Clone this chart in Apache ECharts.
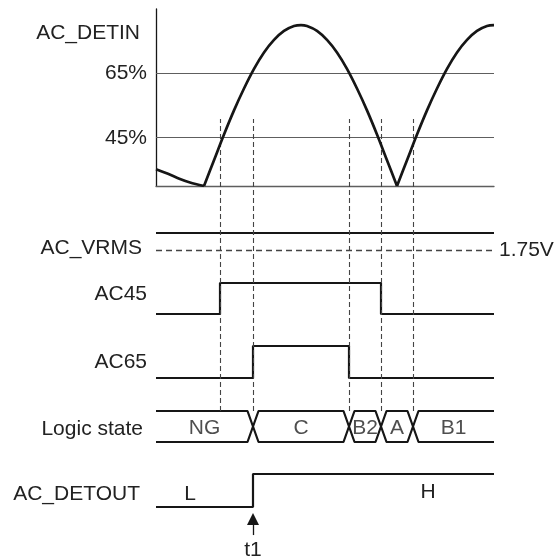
<!DOCTYPE html>
<html><head><meta charset="utf-8">
<script src="https://cdn.jsdelivr.net/npm/echarts@6/dist/echarts.min.js"></script>
<style>html,body{margin:0;padding:0;background:#fff}#c{width:555px;height:557px}</style>
</head><body><div id="c"></div>
<script>
// ---------- data ----------
const tMax = 338;
const detinTail  = [[0,35.2],[12,33.8],[24,32.2],[34,31.1],[48,30]];
const detinArch1 = [[48,30],[58,38],[68,46],[78,53.5],[88,60.3],[98,66.4],[108,71.5],[118,75.4],[128,78.2],[138,79.7],[145,80],[151,79.7],[161,78.2],[171,75.4],[181,71.5],[191,66.4],[201,60.3],[211,53.5],[221,46],[231,38],[241,30]];
const detinArch2 = [[241,30],[251,38],[261,46],[271,53.5],[281,60.3],[291,66.4],[301,71.5],[311,75.4],[321,78.2],[331,79.7],[338,80]];
const thresholds = [45, 65];
const vrmsLevel = 2.1;
const vrmsThreshold = 1.75;
const eventTimes = [64, 97, 193, 225, 257];
const ac45Edges = [64, 225];
const ac65Edges = [97, 193];
const logicStates = ['NG','C','B2','A','B1'];
const logicEdges = [97, 193, 225, 257];
const t1 = 97;
const detoutLevels = ['L','H'];
const rowNames = ['AC_DETIN','AC_VRMS','AC45','AC65','Logic state','AC_DETOUT'];

// ---------- styles / layout ----------
const FONT = '"Liberation Sans", Arial, Helvetica, sans-serif';
const FS = 21;
const TXT = '#222';
const INK = '#161616';
const GRAYL = '#5e5e5e';
const L = 156, W = 338;
const grids = [
  {top: 9,   height: 177},  // AC_DETIN
  {top: 223, height: 40},   // AC_VRMS
  {top: 283, height: 31},   // AC45
  {top: 346, height: 32},   // AC65
  {top: 411, height: 31},   // Logic state
  {top: 474, height: 66},   // AC_DETOUT
  {top: 119, height: 292}   // dashed guides
].map(g => Object.assign({left: L, width: W, containLabel: false}, g));

const yRanges = [null, [1.5, 2.3], [0,1], [0,1], [0,1], [-1,1], [0,1]];

const xAxes = grids.map((g, i) => ({
  gridIndex: i, type: 'value', min: 0, max: tMax,
  show: i === 0,
  axisLine: {show: i === 0, lineStyle: {color: GRAYL, width: 1.3}},
  axisTick: {show: false}, axisLabel: {show: false}, splitLine: {show: false}
}));
const yAxes = grids.map((g, i) => {
  if (i === 0) return {
    gridIndex: 0, type: 'value', min: 30, max: 85, interval: 5,
    axisLine: {show: true, lineStyle: {color: INK, width: 1.3}},
    axisTick: {show: false}, splitLine: {show: false},
    axisLabel: {
      margin: 9, fontSize: FS, fontFamily: FONT, color: TXT,
      formatter: v => thresholds.includes(v) ? v + '%' : ''
    }
  };
  return {gridIndex: i, type: 'value', min: yRanges[i][0], max: yRanges[i][1], show: false};
});

function stepData(edges, start) {
  const d = [[0, start]];
  let cur = start;
  edges.forEach(e => { cur = 1 - cur; d.push([e, cur]); });
  d.push([tMax, cur]);
  return d;
}
function busPath(start, w) {
  const d = [[0, start]];
  let cur = start;
  logicEdges.forEach(e => { d.push([e - w, cur]); cur = 1 - cur; d.push([e + w, cur]); });
  d.push([tMax, cur]);
  return d;
}
const bounds = [0, ...logicEdges, tMax];
const logicLabelData = logicStates.map((s, i) => ({value: [(bounds[i] + bounds[i+1]) / 2, 0.45], name: s}));

const sig = (w) => ({color: INK, width: w});
const series = [];
const detinStyle = {type: 'line', xAxisIndex: 0, yAxisIndex: 0, showSymbol: false, symbol: 'none', smooth: 0.35, lineStyle: sig(2.7), z: 5, silent: true};
series.push(Object.assign({}, detinStyle, {data: detinTail, smooth: 0.3,
  markLine: {silent: true, symbol: ['none','none'], label: {show: false},
    lineStyle: {color: GRAYL, type: 'solid', width: 1.2},
    data: thresholds.map(v => ({yAxis: v}))}}));
series.push(Object.assign({}, detinStyle, {data: detinArch1}));
series.push(Object.assign({}, detinStyle, {data: detinArch2}));

series.push({type: 'line', xAxisIndex: 1, yAxisIndex: 1, symbol: 'none', silent: true,
  data: [[0, vrmsLevel], [tMax, vrmsLevel]], lineStyle: sig(2),
  markLine: {silent: true, symbol: ['none','none'],
    lineStyle: {color: '#444', type: [6, 4], width: 1.3},
    label: {show: true, position: 'end', distance: 5, formatter: vrmsThreshold.toFixed(2) + 'V',
      fontSize: FS, fontFamily: FONT, color: TXT},
    data: [{yAxis: vrmsThreshold}]}});

series.push({type: 'line', xAxisIndex: 2, yAxisIndex: 2, symbol: 'none', silent: true, step: 'end',
  data: stepData(ac45Edges, 0), lineStyle: sig(2.2)});
series.push({type: 'line', xAxisIndex: 3, yAxisIndex: 3, symbol: 'none', silent: true, step: 'end',
  data: stepData(ac65Edges, 0), lineStyle: sig(2.2)});

series.push({type: 'line', xAxisIndex: 4, yAxisIndex: 4, symbol: 'none', silent: true,
  data: busPath(1, 5.5), lineStyle: sig(2.2)});
series.push({type: 'line', xAxisIndex: 4, yAxisIndex: 4, symbol: 'none', silent: true,
  data: busPath(0, 5.5), lineStyle: sig(2.2)});
series.push({type: 'scatter', xAxisIndex: 4, yAxisIndex: 4, symbolSize: 1, silent: true,
  itemStyle: {color: 'rgba(0,0,0,0)'}, data: logicLabelData,
  label: {show: true, position: 'inside', formatter: p => p.name, fontSize: FS, fontFamily: FONT, color: TXT}});

series.push({type: 'line', xAxisIndex: 5, yAxisIndex: 5, symbol: 'none', silent: true, step: 'end',
  data: [[0, 0], [t1, 1], [tMax, 1]], lineStyle: sig(2.2),
  markLine: {silent: true, symbol: ['none', 'triangle'], symbolSize: 12,
    lineStyle: {color: INK, type: 'solid', width: 1.3},
    label: {show: true, position: 'start', distance: 5, formatter: 't1', fontSize: FS, fontFamily: FONT, color: TXT},
    data: [[{coord: [t1, -0.85]}, {coord: [t1, -0.36]}]]}});

series.push({type: 'line', xAxisIndex: 6, yAxisIndex: 6, symbol: 'none', silent: true,
  data: [[0, 0], [tMax, 0]], lineStyle: {opacity: 0},
  markLine: {silent: true, symbol: ['none','none'], label: {show: false},
    lineStyle: {color: '#444', type: [5, 3], width: 1.1},
    data: eventTimes.map(t => ({xAxis: t}))}});

const rowLabelPos = [[140, 33], [142, 248], [147, 294], [147, 362], [143, 429], [140, 494]];
const graphics = rowNames.map((n, i) => ({
  type: 'text', silent: true,
  style: {text: n, x: rowLabelPos[i][0], y: rowLabelPos[i][1], align: 'right', verticalAlign: 'middle',
    fontSize: FS, fontFamily: FONT, fill: TXT}
}));
const levelPos = [[190, 494], [428, 492]];
detoutLevels.forEach((s, i) => graphics.push({
  type: 'text', silent: true,
  style: {text: s, x: levelPos[i][0], y: levelPos[i][1], align: 'center', verticalAlign: 'middle',
    fontSize: FS, fontFamily: FONT, fill: TXT}
}));

const chart = echarts.init(document.getElementById('c'), null, {renderer: 'canvas'});
chart.setOption({
  animation: false,
  backgroundColor: '#fff',
  grid: grids, xAxis: xAxes, yAxis: yAxes, series: series, graphic: graphics
});
</script></body></html>
